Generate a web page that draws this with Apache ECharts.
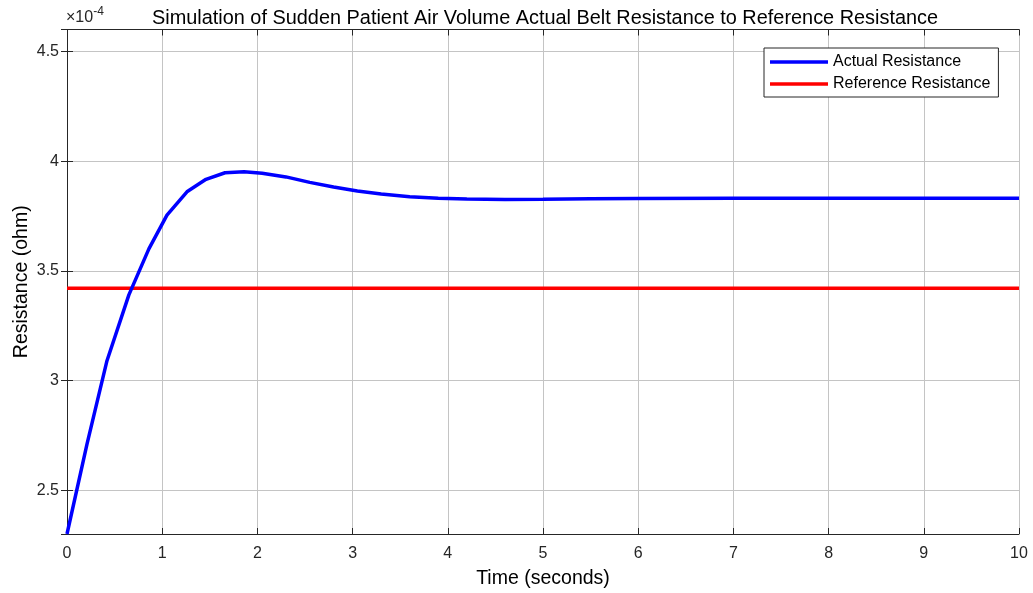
<!DOCTYPE html>
<html>
<head>
<meta charset="utf-8">
<script src="https://cdn.jsdelivr.net/npm/echarts@6/dist/echarts.min.js"></script>
<style>
html,body{margin:0;padding:0;background:#fff;}
#chart{width:1033px;height:593px;}
</style>
</head>
<body>
<div id="chart"></div>
<script>
// Values in units of 1e-4 ohm (axis shows x10^-4)
const timeSeconds = [0, 0.21, 0.42, 0.65, 0.86, 1.05, 1.26, 1.46, 1.66, 1.86, 2.05, 2.3, 2.55, 2.8, 3.05, 3.3, 3.6, 3.9, 4.2, 4.6, 5.0, 5.5, 6, 7, 8, 9, 10];
const actualResistance = [2.30, 2.71, 3.09, 3.39, 3.60, 3.754, 3.86, 3.917, 3.947, 3.951, 3.945, 3.928, 3.903, 3.882, 3.864, 3.85, 3.838, 3.831, 3.827, 3.825, 3.826, 3.828, 3.83, 3.831, 3.831, 3.831, 3.831];
const referenceTime = [0, 10];
const referenceResistance = [3.42, 3.42];
const seriesNames = ['Actual Resistance', 'Reference Resistance'];
const titleText = 'Simulation of Sudden Patient Air Volume Actual Belt Resistance to Reference Resistance';
const xAxisName = 'Time (seconds)';
const yAxisName = 'Resistance (ohm)';

const FONT = '"Liberation Sans", Arial, Helvetica, sans-serif';
const TXT = '#262626';
const chart = echarts.init(document.getElementById('chart'));

const tickCommon = {show: true, inside: true, length: 6, lineStyle: {color: TXT, width: 1}};

chart.setOption({
  animation: false,
  backgroundColor: '#ffffff',
  title: {
    text: titleText,
    left: 540, top: 4, textAlign: 'center',
    textStyle: {fontFamily: FONT, fontSize: 19.9, fontWeight: 'normal', color: '#000'}
  },
  graphic: [{
    type: 'text', left: 66, top: 6,
    style: {
      text: '{a|\u00d710}{b|-4}',
      rich: {
        a: {fontFamily: FONT, fontSize: 16, fill: TXT, verticalAlign: 'bottom', lineHeight: 20},
        b: {fontFamily: FONT, fontSize: 12, fill: TXT, verticalAlign: 'top', lineHeight: 12, padding: [0, 0, 9, 0]}
      }
    }
  }],
  legend: {
    orient: 'vertical',
    left: 764, top: 48,
    data: seriesNames,
    icon: 'rect',
    itemWidth: 58, itemHeight: 3.5,
    itemGap: 6,
    padding: [6, 8, 5, 6],
    backgroundColor: '#fff',
    borderColor: TXT, borderWidth: 1, borderRadius: 0,
    textStyle: {fontFamily: FONT, fontSize: 16, color: '#000'}
  },
  grid: {left: 67, right: 14, top: 29.5, bottom: 59, containLabel: false, outerBoundsMode: 'none'},
  xAxis: [{
    type: 'value', min: 0, max: 10, interval: 1,
    name: xAxisName, nameLocation: 'middle', nameGap: 35,
    nameTextStyle: {fontFamily: FONT, fontSize: 19.5, color: '#000'},
    axisLine: {show: true, lineStyle: {color: TXT, width: 1}},
    axisTick: tickCommon,
    axisLabel: {fontFamily: FONT, fontSize: 16, color: TXT, margin: 12},
    splitLine: {show: true, lineStyle: {color: '#c4c4c4', width: 1}}
  }, {
    type: 'value', position: 'top', min: 0, max: 10, interval: 1,
    axisLine: {show: true, lineStyle: {color: TXT, width: 1}},
    axisTick: tickCommon, axisLabel: {show: false}, splitLine: {show: false}
  }],
  yAxis: [{
    type: 'value', min: 2.3, max: 4.6, splitNumber: 5,
    name: yAxisName, nameLocation: 'middle', nameGap: 35, nameMoveOverlap: false,
    nameTextStyle: {fontFamily: FONT, fontSize: 19.5, color: '#000'},
    axisLine: {show: true, lineStyle: {color: TXT, width: 1}},
    axisTick: tickCommon,
    axisLabel: {fontFamily: FONT, fontSize: 16, color: TXT, margin: 8, showMinLabel: false, showMaxLabel: false,
      formatter: v => String(+v.toFixed(2))},
    splitLine: {show: true, lineStyle: {color: '#c4c4c4', width: 1}}
  }, {
    type: 'value', position: 'right', min: 2.3, max: 4.6, splitNumber: 5,
    axisLine: {show: true, lineStyle: {color: TXT, width: 1}},
    axisTick: tickCommon, axisLabel: {show: false}, splitLine: {show: false}
  }],
  series: [{
    name: seriesNames[0], type: 'line', showSymbol: false, symbol: 'none',
    xAxisIndex: 0, yAxisIndex: 0,
    data: timeSeconds.map((t, i) => [t, actualResistance[i]]),
    lineStyle: {color: '#0000ff', width: 3.5}, itemStyle: {color: '#0000ff'},
    clip: true, z: 3
  }, {
    name: seriesNames[1], type: 'line', showSymbol: false, symbol: 'none',
    xAxisIndex: 0, yAxisIndex: 0,
    data: referenceTime.map((t, i) => [t, referenceResistance[i]]),
    lineStyle: {color: '#ff0000', width: 3.5}, itemStyle: {color: '#ff0000'},
    z: 2
  }]
});
</script>
</body>
</html>
